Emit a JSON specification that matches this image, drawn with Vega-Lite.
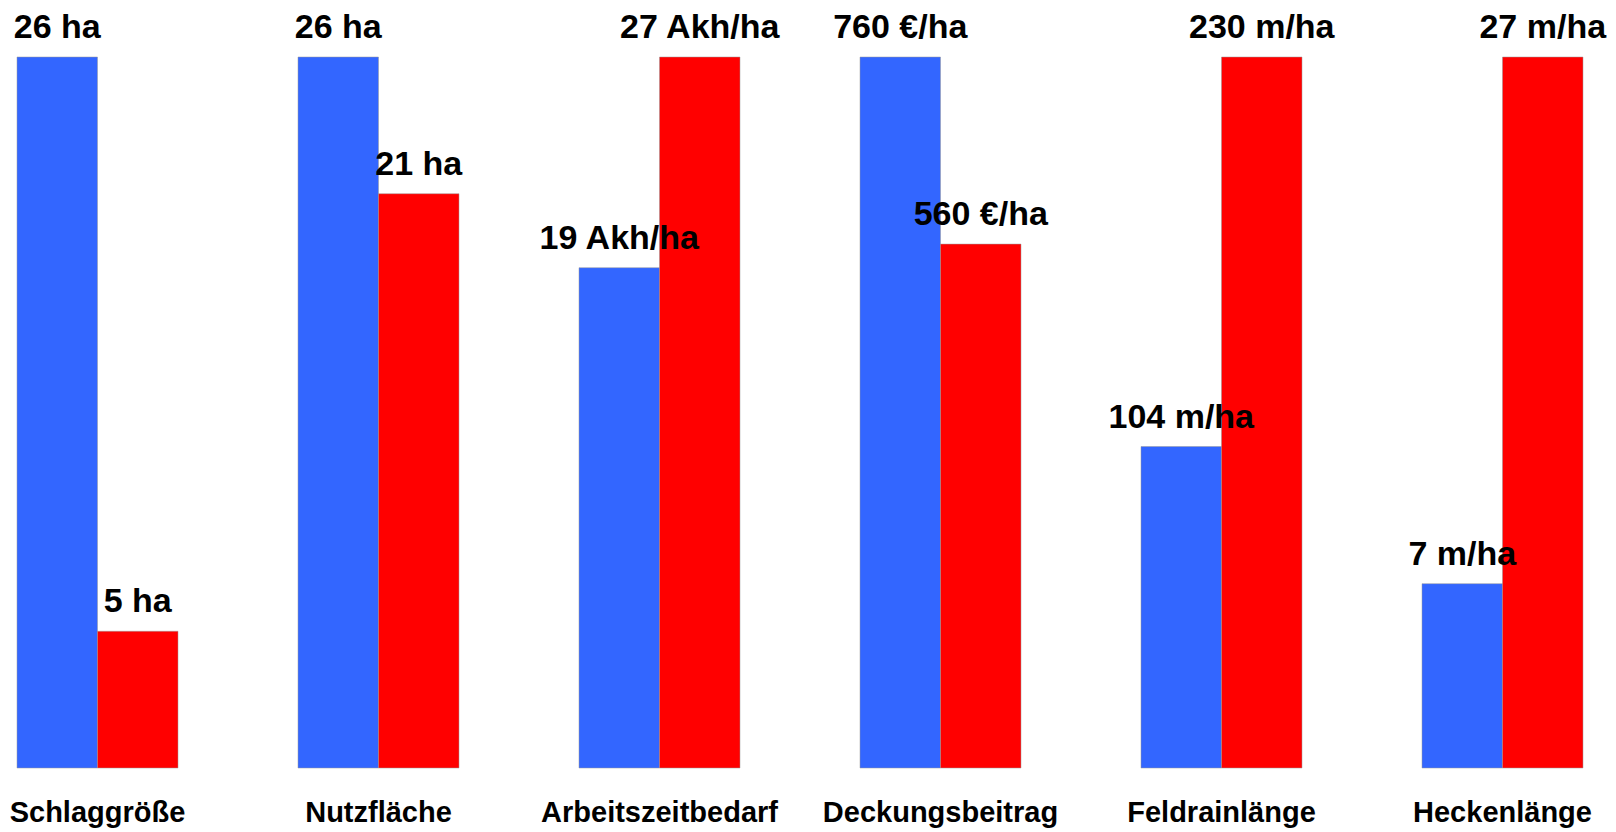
{
  "$schema": "https://vega.github.io/schema/vega-lite/v6.json",
  "autosize": {"type": "pad"},
  "padding": {"left": 9, "top": 11, "right": 0, "bottom": 0},
  "background": "white",
  "bounds": "flush",
  "data": {"values": [
    {"group": "Schlaggröße", "series": "A", "value": 26, "label": "26 ha"},
    {"group": "Schlaggröße", "series": "B", "value": 5, "label": "5 ha"},
    {"group": "Nutzfläche", "series": "A", "value": 26, "label": "26 ha"},
    {"group": "Nutzfläche", "series": "B", "value": 21, "label": "21 ha"},
    {"group": "Arbeitszeitbedarf", "series": "A", "value": 19, "label": "19 Akh/ha"},
    {"group": "Arbeitszeitbedarf", "series": "B", "value": 27, "label": "27 Akh/ha"},
    {"group": "Deckungsbeitrag", "series": "A", "value": 760, "label": "760 €/ha"},
    {"group": "Deckungsbeitrag", "series": "B", "value": 560, "label": "560 €/ha"},
    {"group": "Feldrainlänge", "series": "A", "value": 104, "label": "104 m/ha"},
    {"group": "Feldrainlänge", "series": "B", "value": 230, "label": "230 m/ha"},
    {"group": "Heckenlänge", "series": "A", "value": 7, "label": "7 m/ha"},
    {"group": "Heckenlänge", "series": "B", "value": 27, "label": "27 m/ha"}
  ]},
  "facet": {
    "column": {
      "field": "group",
      "type": "nominal",
      "sort": ["Schlaggröße", "Nutzfläche", "Arbeitszeitbedarf", "Deckungsbeitrag", "Feldrainlänge", "Heckenlänge"],
      "title": null,
      "header": {
        "labelOrient": "bottom",
        "labelFont": "Liberation Sans",
        "labelFontWeight": "bold",
        "labelFontSize": 29,
        "labelColor": "black",
        "labelBaseline": "alphabetic",
        "labelPadding": 54
      }
    }
  },
  "spacing": 120,
  "resolve": {"scale": {"y": "independent"}},
  "spec": {
    "width": 161,
    "height": 711,
    "encoding": {
      "x": {"field": "series", "type": "nominal", "axis": null, "scale": {"paddingInner": 0, "paddingOuter": 0}},
      "y": {"field": "value", "type": "quantitative", "axis": null, "scale": {"zero": true, "nice": false}}
    },
    "layer": [
      {
        "mark": {"type": "bar", "stroke": "#999999", "strokeWidth": 0.5},
        "encoding": {
          "color": {"field": "series", "type": "nominal", "legend": null,
                    "scale": {"domain": ["A", "B"], "range": ["#3366FF", "#FF0000"]}}
        }
      },
      {
        "mark": {"type": "text", "font": "Liberation Sans", "fontWeight": "bold", "fontSize": 34, "baseline": "alphabetic", "align": "center", "dy": -19, "color": "black"},
        "encoding": {"text": {"field": "label", "type": "nominal"}}
      }
    ]
  },
  "config": {"view": {"stroke": null}}
}
